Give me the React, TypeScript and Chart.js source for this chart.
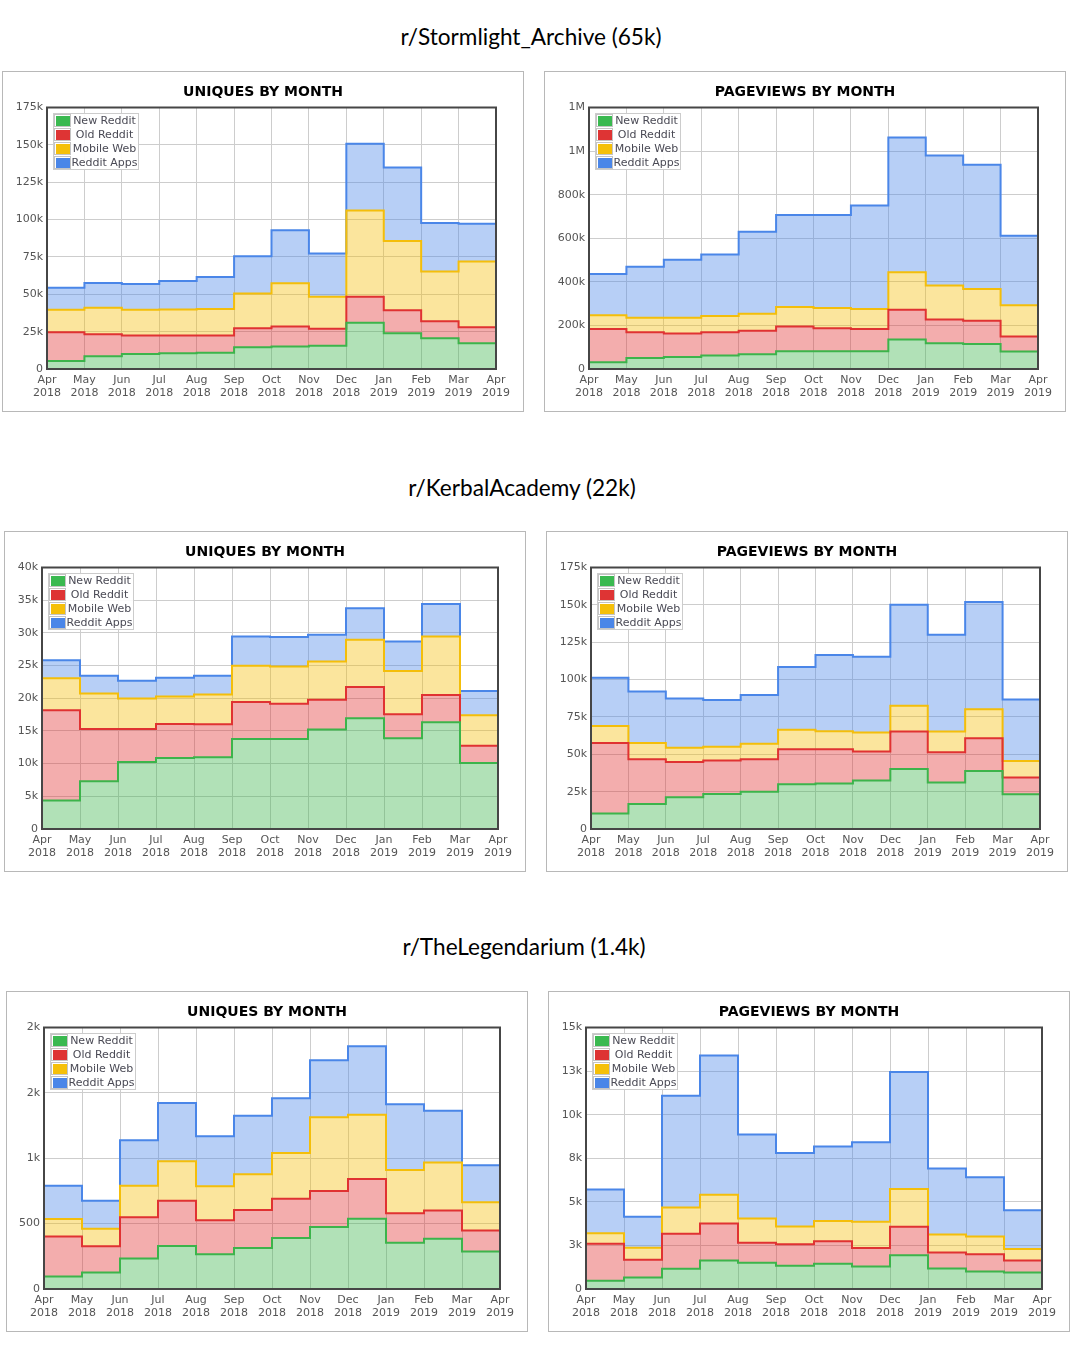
import React, { useEffect, useRef } from 'react';
import { Chart, registerables } from 'chart.js';

Chart.register(...registerables);

// ---------- categories ----------
const monthNames = ['Apr', 'May', 'Jun', 'Jul', 'Aug', 'Sep', 'Oct', 'Nov', 'Dec', 'Jan', 'Feb', 'Mar', 'Apr'];
const yearNames = ['2018', '2018', '2018', '2018', '2018', '2018', '2018', '2018', '2018', '2019', '2019', '2019', '2019'];
const seriesNames = ['New Reddit', 'Old Reddit', 'Mobile Web', 'Reddit Apps'];

// ---------- r/Stormlight_Archive ----------
const slUniqNew = [5400, 8500, 10100, 10500, 10800, 14600, 15000, 15500, 30900, 24000, 20600, 17300];
const slUniqOld = [19200, 14800, 12300, 11900, 11600, 12700, 13500, 11400, 17500, 15400, 11400, 10700];
const slUniqMobile = [15100, 17700, 17300, 17500, 17700, 23300, 28900, 21500, 57600, 46200, 33200, 43900];
const slUniqApps = [14700, 16600, 17200, 19000, 21500, 24900, 35400, 28900, 44800, 49300, 32500, 25300];
const slUniqTicks = ['0', '25k', '50k', '75k', '100k', '125k', '150k', '175k'];

const slPvNew = [31000, 51000, 55000, 62000, 68000, 81000, 81000, 81000, 135000, 118000, 115000, 80000];
const slPvOld = [152000, 118000, 108000, 107000, 107000, 114000, 106000, 103000, 137000, 109000, 106000, 69000];
const slPvMobile = [64000, 66000, 72000, 74000, 79000, 89000, 93000, 91000, 172000, 156000, 146000, 144000];
const slPvApps = [189000, 234000, 266000, 283000, 376000, 423000, 427000, 475000, 618000, 597000, 570000, 319000];
const slPvTicks = ['0', '200k', '400k', '600k', '800k', '1M', '1M'];

// ---------- r/KerbalAcademy ----------
const kaUniqNew = [4350, 7320, 10240, 10860, 10960, 13780, 13780, 15210, 16950, 13880, 16340, 10090];
const kaUniqOld = [13830, 7990, 5070, 5220, 5070, 5630, 5370, 4560, 4770, 3690, 4150, 2660];
const kaUniqMobile = [4870, 5430, 4660, 4200, 4560, 5580, 5690, 5840, 7220, 6600, 8960, 4660];
const kaUniqApps = [2760, 2720, 2720, 2870, 2870, 4460, 4510, 4100, 4810, 4510, 4970, 3690];
const kaUniqTicks = ['0', '5k', '10k', '15k', '20k', '25k', '30k', '35k', '40k'];

const kaPvNew = [10300, 16800, 21300, 23500, 24900, 30000, 30500, 32500, 40100, 31100, 38800, 23300];
const kaPvOld = [47300, 29800, 23500, 22400, 21700, 23300, 22800, 19300, 25100, 20200, 21900, 11200];
const kaPvMobile = [11400, 11000, 9600, 9200, 10500, 13200, 12100, 12700, 17300, 13900, 19500, 11000];
const kaPvApps = [32300, 34500, 33000, 31200, 32500, 41900, 51100, 50700, 67600, 64800, 71700, 41200];
const kaPvTicks = ['0', '25k', '50k', '75k', '100k', '125k', '150k', '175k'];

// ---------- r/TheLegendarium ----------
const tlUniqNew = [95, 126, 234, 329, 265, 314, 391, 474, 538, 353, 384, 286];
const tlUniqOld = [307, 201, 314, 345, 260, 291, 299, 275, 304, 226, 216, 162];
const tlUniqMobile = [133, 134, 242, 304, 260, 273, 350, 564, 491, 332, 368, 216];
const tlUniqApps = [255, 213, 348, 445, 384, 448, 419, 437, 523, 502, 396, 283];
const tlUniqTicks = ['0', '500', '1k', '2k', '2k'];

const tlPvNew = [480, 660, 1160, 1640, 1510, 1330, 1450, 1290, 1930, 1180, 1000, 950];
const tlPvOld = [2120, 1020, 2010, 2120, 1140, 1240, 1290, 1060, 1640, 910, 990, 690];
const tlPvMobile = [600, 680, 1510, 1640, 1400, 1020, 1160, 1510, 2160, 1040, 1020, 660];
const tlPvApps = [2510, 1790, 6410, 7990, 4810, 4210, 4270, 4560, 6720, 3780, 3400, 2220];
const tlPvTicks = ['0', '3k', '5k', '8k', '10k', '13k', '15k'];

// ---------- styles ----------
const lineColors = ['rgb(60,180,75)', 'rgb(224,50,50)', 'rgb(244,190,10)', 'rgb(74,134,232)'];
const fillColors = ['rgba(60,180,75,0.4)', 'rgba(224,50,50,0.4)', 'rgba(244,190,10,0.4)', 'rgba(74,134,232,0.4)'];
const swatchColors = ['rgb(58,185,80)', 'rgb(222,52,52)', 'rgb(245,192,10)', 'rgb(74,134,232)'];

const CANVAS_W = 520;
const CANVAS_H = 339;
const PLOT_RIGHT = 493;
const PLOT_BOTTOM = 297;
const TICK_FONT = { family: 'DejaVu Sans', size: 11, lineHeight: '13px' };

const framePlugin = {
  id: 'plotFrame',
  afterDatasetsDraw(chart: any) {
    const { ctx, chartArea: a } = chart;
    ctx.save();
    ctx.strokeStyle = '#464646';
    ctx.lineWidth = 2;
    ctx.strokeRect(a.left, a.top, a.right - a.left, a.bottom - a.top);
    ctx.restore();
  },
};

const insetLegendPlugin = {
  id: 'insetLegend',
  afterDraw(chart: any) {
    const { ctx, chartArea: a } = chart;
    const x0 = Math.round(a.left + 6);
    const y0 = Math.round(a.top + 5);
    const w = 86;
    const h = 57;
    ctx.save();
    ctx.fillStyle = 'rgba(255,255,255,0.92)';
    ctx.fillRect(x0, y0, w, h);
    ctx.strokeStyle = '#cccccc';
    ctx.lineWidth = 1;
    ctx.strokeRect(x0 + 0.5, y0 + 0.5, w - 1, h - 1);
    ctx.font = '11px "DejaVu Sans"';
    ctx.textAlign = 'center';
    ctx.textBaseline = 'middle';
    chart.data.datasets.forEach((ds: any, i: number) => {
      const ry = y0 + 1 + i * 14;
      ctx.strokeStyle = '#c4c4c4';
      ctx.strokeRect(x0 + 1.5, ry + 0.5, 16, 12);
      ctx.fillStyle = swatchColors[i];
      ctx.fillRect(x0 + 3, ry + 2, 14, 10);
      ctx.fillStyle = '#4a4a55';
      ctx.fillText(ds.label, x0 + 51.5, ry + 7.5);
    });
    ctx.restore();
  },
};

type PanelProps = {
  title: string;
  series: number[][];
  yMax: number;
  yStep: number;
  yLabels: string[];
  yWidth: number;
  left: number;
  top: number;
};

function Panel({ title, series, yMax, yStep, yLabels, yWidth, left, top }: PanelProps) {
  const ref = useRef<HTMLCanvasElement>(null);
  useEffect(() => {
    const canvas = ref.current;
    if (!canvas) return;
    const labels = monthNames.map((m, i) => [m, yearNames[i]]);
    const datasets = series.map((vals, i) => ({
      label: seriesNames[i],
      data: [...vals, vals[vals.length - 1]],
      borderColor: lineColors[i],
      backgroundColor: fillColors[i],
      fill: i === 0 ? 'origin' : '-1',
      borderWidth: 2,
      pointRadius: 0,
      pointHoverRadius: 0,
      stepped: 'before',
      tension: 0,
    }));
    const chart = new Chart(canvas, {
      type: 'line',
      data: { labels, datasets } as any,
      options: {
        animation: false,
        responsive: false,
        devicePixelRatio: 1,
        events: [],
        layout: { padding: 0 },
        plugins: {
          legend: { display: false },
          tooltip: { enabled: false },
          title: {
            display: true,
            text: title,
            color: '#000000',
            font: { family: 'DejaVu Sans', size: 14, weight: 'bold', lineHeight: '16px' },
            padding: { top: 12.5, bottom: 7 },
          },
        },
        scales: {
          x: {
            type: 'category',
            offset: false,
            grid: { color: '#cdcdcd', drawTicks: false, offset: false, lineWidth: 1 },
            border: { display: false },
            ticks: {
              autoSkip: false,
              maxRotation: 0,
              minRotation: 0,
              padding: 5,
              color: '#555555',
              font: TICK_FONT,
            },
            afterFit: (s: any) => {
              s.height = CANVAS_H - PLOT_BOTTOM;
              s.paddingRight = CANVAS_W - PLOT_RIGHT;
            },
          },
          y: {
            type: 'linear',
            stacked: true,
            min: 0,
            max: yMax,
            grid: { color: '#cdcdcd', drawTicks: false, lineWidth: 1 },
            border: { display: false },
            ticks: {
              stepSize: yStep,
              padding: 4,
              color: '#555555',
              font: TICK_FONT,
              callback: (_v: any, i: number) => yLabels[i],
            },
            afterFit: (s: any) => {
              s.width = yWidth;
            },
          },
        },
      } as any,
      plugins: [framePlugin, insetLegendPlugin],
    });
    return () => chart.destroy();
  }, []);
  return (
    <div
      style={{
        position: 'absolute',
        left,
        top,
        width: CANVAS_W + 2,
        height: CANVAS_H + 2,
        border: '1px solid #b8b8b8',
        boxSizing: 'border-box',
        background: '#ffffff',
      }}
    >
      <canvas ref={ref} width={CANVAS_W} height={CANVAS_H} style={{ display: 'block', width: CANVAS_W, height: CANVAS_H }} />
    </div>
  );
}

function Heading({ text, cx, baseline }: { text: string; cx: number; baseline: number }) {
  return (
    <div
      style={{
        position: 'absolute',
        left: cx - 300,
        width: 600,
        top: baseline - 23,
        textAlign: 'center',
        fontFamily: 'Lato, "Noto Sans", sans-serif',
        fontSize: 22.6,
        lineHeight: '30px',
        color: '#000000',
        whiteSpace: 'nowrap',
      }}
    >
      {text}
    </div>
  );
}

export default function App() {
  return (
    <div style={{ position: 'absolute', left: 0, top: 0, width: 1074, height: 1361, background: '#ffffff', overflow: 'hidden' }}>
      <Heading text="r/Stormlight_Archive (65k)" cx={531} baseline={45} />
      <Panel title="UNIQUES BY MONTH" series={[slUniqNew, slUniqOld, slUniqMobile, slUniqApps]} yMax={175000} yStep={25000} yLabels={slUniqTicks} yWidth={44} left={2} top={71} />
      <Panel title="PAGEVIEWS BY MONTH" series={[slPvNew, slPvOld, slPvMobile, slPvApps]} yMax={1200000} yStep={200000} yLabels={slPvTicks} yWidth={44} left={544} top={71} />

      <Heading text="r/KerbalAcademy (22k)" cx={522} baseline={496} />
      <Panel title="UNIQUES BY MONTH" series={[kaUniqNew, kaUniqOld, kaUniqMobile, kaUniqApps]} yMax={40000} yStep={5000} yLabels={kaUniqTicks} yWidth={37} left={4} top={531} />
      <Panel title="PAGEVIEWS BY MONTH" series={[kaPvNew, kaPvOld, kaPvMobile, kaPvApps]} yMax={175000} yStep={25000} yLabels={kaPvTicks} yWidth={44} left={546} top={531} />

      <Heading text="r/TheLegendarium (1.4k)" cx={524} baseline={955} />
      <Panel title="UNIQUES BY MONTH" series={[tlUniqNew, tlUniqOld, tlUniqMobile, tlUniqApps]} yMax={2000} yStep={500} yLabels={tlUniqTicks} yWidth={37} left={6} top={991} />
      <Panel title="PAGEVIEWS BY MONTH" series={[tlPvNew, tlPvOld, tlPvMobile, tlPvApps]} yMax={15000} yStep={2500} yLabels={tlPvTicks} yWidth={37} left={548} top={991} />
    </div>
  );
}
